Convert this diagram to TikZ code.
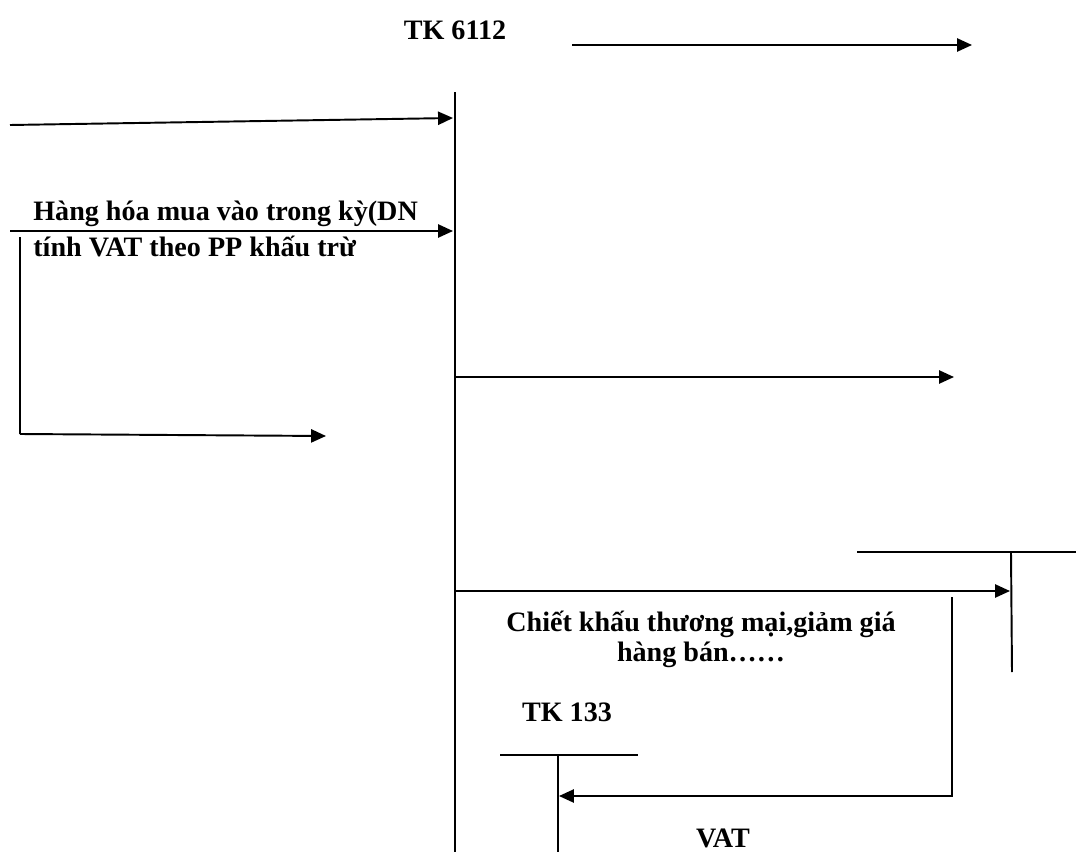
\documentclass[tikz,border=0pt]{standalone}
\usepackage{fontspec}
\setmainfont{Liberation Serif}
\usetikzlibrary{arrows.meta}
\begin{document}
\begin{tikzpicture}[x=0.02cm, y=-0.02cm, >={Triangle[length=8.5pt, width=7.5pt]},
    font=\fontsize{16}{17}\selectfont\bfseries,
    line/.style={line width=1.1pt},
    flow/.style={line, ->},
    lbl/.style={inner sep=0pt, align=center}]

  \useasboundingbox (0,0) rectangle (1076,852);

  % --- Trục TK 6112 ---
  \node[lbl] (tk6112) at (455,30) {TK 6112};
  \coordinate (topA) at (572,45);
  \coordinate (topB) at (972,45);
  \draw[flow] (topA) -- (topB);
  \coordinate (axTop) at (455,92);
  \coordinate (axBot) at (455,852);
  \draw[line] (axTop) -- (axBot);

  % --- Các luồng bên trái ---
  \coordinate (in1) at (10,125);
  \coordinate (in1e) at (453,118);
  \draw[flow] (in1) -- (in1e);
  \coordinate (in2) at (10,231);
  \coordinate (in2e) at (453,231);
  \draw[flow] (in2) -- (in2e);
  \node[lbl, anchor=base west] (hang) at (33,220) {Hàng hóa mua vào trong kỳ(DN};
  \node[lbl, anchor=base west] (tinh) at (33,256) {tính VAT theo PP khấu trừ};
  \coordinate (brTop) at (20,237);
  \coordinate (brBot) at (20,434);
  \coordinate (brEnd) at (326,436);
  \draw[line] (brTop) -- (brBot);
  \draw[flow] (brBot) -- (brEnd);

  % --- Các luồng bên phải ---
  \coordinate (mid) at (455,377);
  \coordinate (midE) at (954,377);
  \draw[flow] (mid) -- (midE);

  % --- Chữ T bên phải ---
  \coordinate (tRL) at (857,552);
  \coordinate (tRR) at (1076,552);
  \coordinate (tRB) at (1012,672);
  \draw[line] (tRL) -- (tRR);
  \draw[line] (1011,552) -- (tRB);
  \coordinate (ck) at (455,591);
  \coordinate (ckE) at (1010,591);
  \draw[flow] (ck) -- (ckE);
  \node[lbl] (chiet) at (701,639) {Chiết khấu thương mại,giảm giá\\hàng bán……};

  % --- TK 133 ---
  \node[lbl] (tk133) at (567,712) {TK 133};
  \coordinate (t133L) at (500,755);
  \coordinate (t133R) at (638,755);
  \coordinate (t133T) at (558,755);
  \coordinate (t133B) at (558,852);
  \draw[line] (t133L) -- (t133R);
  \draw[line] (t133T) -- (t133B);
  \coordinate (vatTop) at (952,597);
  \coordinate (vatCor) at (952,796);
  \coordinate (vatEnd) at (559,796);
  \draw[flow] (vatTop) -- (vatCor) -- (vatEnd);
  \node[lbl] (vat) at (723,838) {VAT};

\end{tikzpicture}
\end{document}
